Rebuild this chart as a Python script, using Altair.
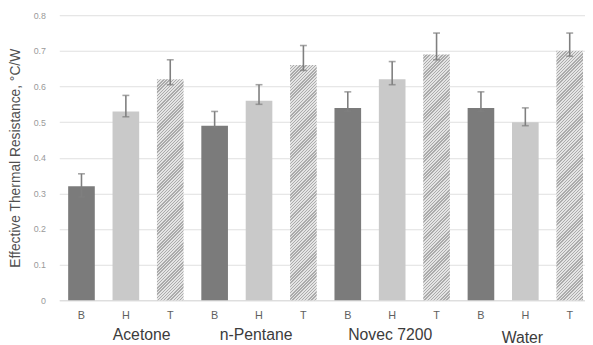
import altair as alt
import pandas as pd

# ---- data ----
groups = ["Acetone", "n-Pentane", "Novec 7200", "Water"]
letters = ["B", "H", "T"]
values = [0.32, 0.53, 0.62, 0.49, 0.56, 0.66, 0.54, 0.62, 0.69, 0.54, 0.50, 0.70]
err_hi = [0.355, 0.575, 0.675, 0.53, 0.605, 0.715, 0.585, 0.67, 0.75, 0.585, 0.54, 0.75]
err_lo = [0.29, 0.515, 0.605, 0.485, 0.55, 0.645, 0.53, 0.605, 0.675, 0.53, 0.49, 0.685]
y_ticks = [0, 0.1, 0.2, 0.3, 0.4, 0.5, 0.6, 0.7, 0.8]
y_title = "Effective Thermal Resistance, \u00b0C/W"

# ---- layout / style ----
FONT = "Liberation Sans"
PLOT_W, PLOT_H = 533, 289
BAND_RANGE = 540
Y_MAX = 0.8
PAD_INNER, PAD_OUTER = 0.4, 0.2
label_shift = {"Acetone": (16, 0), "n-Pentane": (-3, 0), "Novec 7200": (-2, 0), "Water": (-3, 3)}

rows = []
i = 0
for g in groups:
    for l in letters:
        rows.append({"key": f"{g}|{l}", "group": g, "letter": l,
                     "value": values[i], "hi": err_hi[i], "lo": err_lo[i]})
        i += 1
df = pd.DataFrame(rows)
keys = list(df["key"])

xscale = alt.Scale(domain=keys, range=[0, BAND_RANGE],
                   paddingInner=PAD_INNER, paddingOuter=PAD_OUTER)
yscale = alt.Scale(domain=[0, Y_MAX])

x_axis = alt.Axis(title=None, labelAngle=0, ticks=False, domain=True,
                  domainColor="#d9d9d9", labelColor="#5f5f5f",
                  labelFontSize=11, labelPadding=9, labelFont=FONT,
                  labelExpr="split(datum.label, '|')[1]", grid=False)
y_axis = alt.Axis(values=y_ticks, title=y_title, grid=True,
                  gridColor="#e0e0e0", domain=False, domainOpacity=0, ticks=False,
                  labelColor="#9a9a9a", labelFontSize=9, labelFont=FONT,
                  labelPadding=14, labelOverlap=False,
                  labelExpr="datum.value == 0 ? '0' : format(datum.value, '.1f')",
                  titleFont=FONT, titleFontSize=14, titleFontWeight="normal",
                  titleColor="#505050", titleX=-44, titleY=PLOT_H / 2,
                  titleAngle=270, titleAlign="center", titleBaseline="middle")

X = alt.X("key:N", scale=xscale, sort=keys, axis=x_axis)


def Y(field):
    return alt.Y(f"{field}:Q", scale=yscale, axis=y_axis, title=y_title)


base = alt.Chart(df)

bh = base.transform_filter("datum.letter != 'T'").mark_bar().encode(
    x=X, y=Y("value"),
    fill=alt.Fill("letter:N", scale=alt.Scale(domain=["B", "H"], range=["#7b7b7b", "#c9c9c9"]),
                  legend=None))

# hatched T bars via a striped linear gradient (one per bar, matched to bar size)
step = BAND_RANGE / (len(keys) - PAD_INNER + 2 * PAD_OUTER)
bw = step * (1 - PAD_INNER)
period = 3.2
dark_frac = 0.45
c_dark, c_light = "#ababab", "#e4e4e4"
t_layers = []
for g in groups:
    v = float(df[(df.group == g) & (df.letter == "T")]["value"].iloc[0])
    h = v * PLOT_H / Y_MAX
    k = (bw + h) / (bw * bw + h * h)
    n = (bw + h) / period
    stops = []
    j = 0
    while j < n:
        a = j / n
        b = min((j + dark_frac) / n, 1.0)
        c = min((j + 1) / n, 1.0)
        stops += [{"offset": a, "color": c_dark}, {"offset": b, "color": c_dark},
                  {"offset": b, "color": c_light}, {"offset": c, "color": c_light}]
        j += 1
    grad = {"gradient": "linear", "x1": 0, "y1": 0, "x2": k * bw, "y2": k * h, "stops": stops}
    t_layers.append(
        base.transform_filter(f"datum.key == '{g}|T'").mark_bar(fill=grad).encode(
            x=X, y=Y("value")))

err_color = "#7f7f7f"
err_rule = base.mark_rule(color=err_color, strokeWidth=1.6).encode(
    x=X, y=Y("lo"), y2="hi:Q")
cap_hi = base.mark_tick(color=err_color, thickness=1.6, size=7, orient="horizontal").encode(
    x=X, y=Y("hi"))
cap_lo = base.mark_tick(color=err_color, thickness=1.6, size=7, orient="horizontal").encode(
    x=X, y=Y("lo"))

txt_layers = []
for g in groups:
    dx, dy = label_shift[g]
    txt_layers.append(
        base.transform_filter(f"datum.key == '{g}|H'").mark_text(
            font=FONT, fontSize=16, color="#3c3c3c", baseline="middle", align="center",
            dx=dx, dy=dy).encode(
            x=X, y=alt.value(PLOT_H + 35), text="group:N"))

chart = alt.layer(bh, *t_layers, err_rule, cap_hi, cap_lo, *txt_layers).properties(
    width=PLOT_W, height=PLOT_H,
    background="white",
    autosize=alt.AutoSizeParams(type="none"),
    padding={"left": 52, "top": 5, "right": 0, "bottom": 43},
).configure_view(stroke="transparent", strokeWidth=0).configure_axisY(domain=False)

chart.save("out.html", embed_options={"renderer": "svg", "actions": False})
